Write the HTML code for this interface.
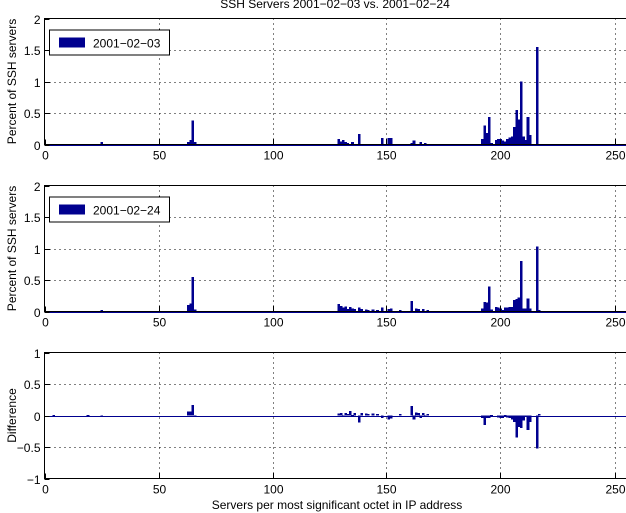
<!DOCTYPE html>
<html><head><meta charset="utf-8"><style>
html,body{margin:0;padding:0;background:#fff;}
svg{display:block;font-family:"Liberation Sans",sans-serif;}
</style></head><body>
<svg id="s" width="626" height="513" xmlns="http://www.w3.org/2000/svg" shape-rendering="crispEdges"></svg>
<script>
const A={24:.04,62:.04,63:.07,64:.38,65:.04,128:.09,129:.05,130:.07,131:.04,132:.02,134:.04,137:.17,147:.1,150:.1,151:.1,160:.02,161:.06,164:.04,166:.02,
191:.09,192:.3,193:.18,194:.44,195:.02,197:.07,198:.09,199:.09,200:.06,201:.05,202:.09,203:.11,204:.13,205:.28,206:.55,207:.4,208:1.0,209:.13,210:.07,211:.44,212:.15,215:1.55};
const B={3:.01,18:.01,24:.02,62:.1,63:.13,64:.55,65:.03,128:.12,129:.09,130:.06,131:.08,132:.04,133:.07,134:.05,135:.04,137:.06,138:.04,140:.03,141:.02,143:.03,145:.02,147:.06,150:.04,151:.05,155:.02,160:.17,162:.05,163:.04,165:.04,167:.02,
191:.05,192:.15,193:.14,194:.4,195:.03,197:.07,198:.06,199:.05,200:.02,201:.06,202:.06,203:.07,204:.07,205:.18,206:.2,207:.22,208:.8,209:.05,210:.05,211:.21,212:.05,215:1.03,216:.02};
const C={};for(let i=0;i<256;i++){const d=(B[i]||0)-(A[i]||0);if(Math.abs(d)>1e-6)C[i]=d;}
const X0=44.5,SX=2.28,W=626;
const R=v=>Math.round(v)+0.5;
let h='<text x="335" y="8" font-size="12" text-anchor="middle">SSH Servers 2001−02−03 vs. 2001−02−24</text>';
function panel(top,bot,ymin,ymax,ticks,labels,data,ylab,leg){
  const sy=(bot-top)/(ymax-ymin);const Y=v=>bot-(v-ymin)*sy;
  for(const t of [50,100,150,200,250]){const x=R(X0+t*SX);h+=`<line x1="${x}" y1="${top}" x2="${x}" y2="${bot}" stroke="#000" stroke-width="1" stroke-dasharray="1,4"/>`;}
  for(const t of ticks){if(t==ymin||t==ymax)continue;const y=R(Y(t));h+=`<line x1="${X0}" y1="${y}" x2="${W}" y2="${y}" stroke="#000" stroke-width="1" stroke-dasharray="1,4"/>`;}
  const z=Y(0);
  for(const k in data){const v=data[k];const x=X0+(+k+0.5)*SX;const y1=Y(Math.max(v,0)),y2=Y(Math.min(v,0));
    h+=`<rect x="${x.toFixed(1)}" y="${y1.toFixed(1)}" width="${(SX+0.3).toFixed(2)}" height="${Math.max(y2-y1,1).toFixed(1)}" fill="#00008f"/>`;}
  h+=`<line x1="${X0}" y1="${R(z)}" x2="${W}" y2="${R(z)}" stroke="#00008f" stroke-width="1"/>`;
  h+=`<path d="M${W} ${top}H${X0}V${bot}H${W}" fill="none" stroke="#000" stroke-width="1"/>`;
  for(const t of [0,50,100,150,200,250]){const x=R(X0+t*SX);h+=`<line x1="${x}" y1="${bot}" x2="${x}" y2="${bot-5}" stroke="#000"/><text x="${x}" y="${bot+15}" font-size="12" text-anchor="middle">${t}</text>`;}
  ticks.forEach((t,i)=>{const y=R(Y(t));h+=`<line x1="${X0}" y1="${y}" x2="${X0+5}" y2="${y}" stroke="#000"/><text x="${X0-4}" y="${y+4.5}" font-size="12" text-anchor="end">${labels[i]}</text>`;});
  h+=`<text transform="translate(16 ${(top+bot)/2}) rotate(-90)" font-size="12" text-anchor="middle">${ylab}</text>`;
  if(leg){h+=`<rect x="49.5" y="${top+11.5}" width="120" height="25" fill="#fff" stroke="#000"/><rect x="59" y="${top+19}" width="26" height="10" fill="#00008f"/><text x="93" y="${top+29}" font-size="12">${leg}</text>`;}
}
panel(18.5,144.5,0,2,[0,.5,1,1.5,2],["0","0.5","1","1.5","2"],A,"Percent of SSH servers","2001−02−03");
panel(185.5,311.5,0,2,[0,.5,1,1.5,2],["0","0.5","1","1.5","2"],B,"Percent of SSH servers","2001−02−24");
panel(352.5,478.5,-1,1,[-1,-.5,0,.5,1],["−1","−0.5","0","0.5","1"],C,"Difference",null);
h+='<text x="337" y="509" font-size="12" text-anchor="middle">Servers per most significant octet in IP address</text>';
document.getElementById('s').innerHTML=h;
</script>
</body></html>
